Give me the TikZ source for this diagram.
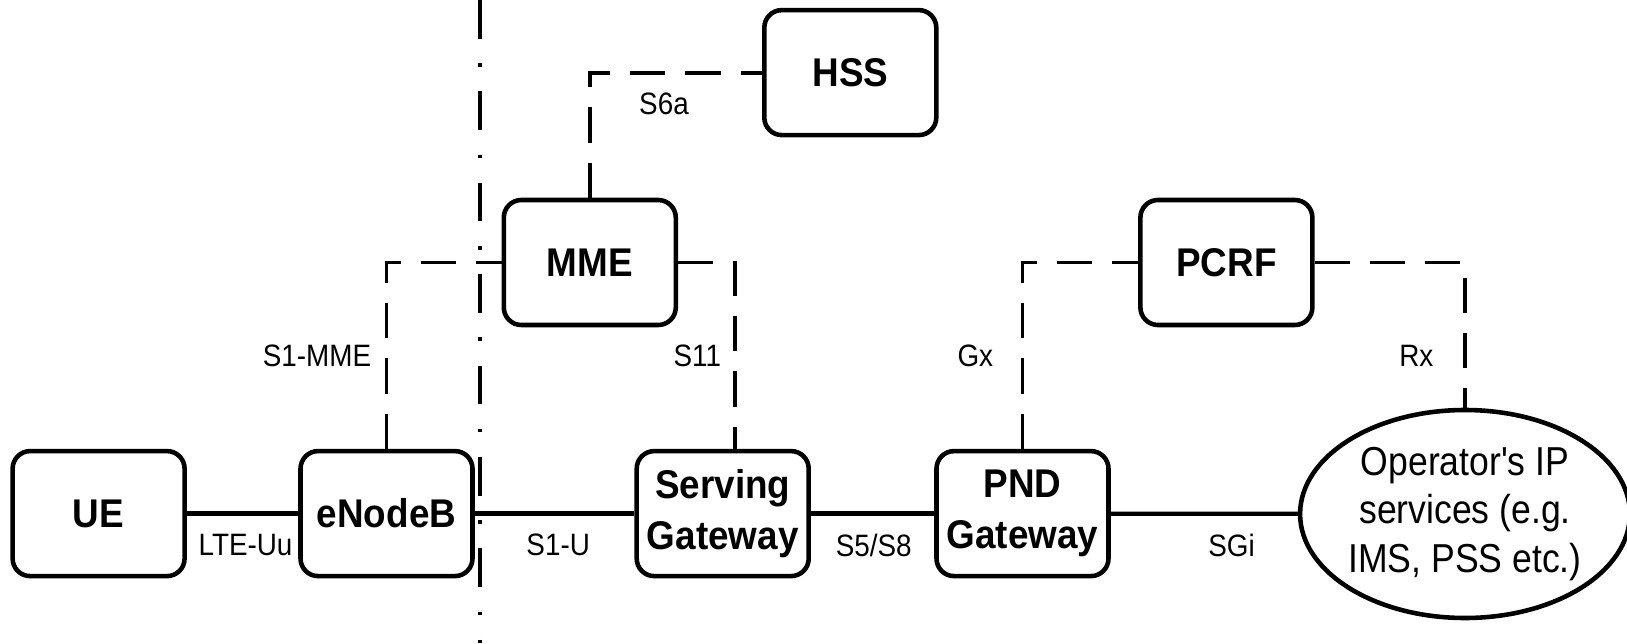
\documentclass[tikz,border=0pt]{standalone}
\usepackage{fontspec}
\setmainfont{Liberation Sans}
\newfontfamily\boxfont[FakeStretch=0.92]{Liberation Sans}
\newfontfamily\ifacefont[FakeStretch=0.9]{Liberation Sans}
\newfontfamily\opsfont[FakeStretch=0.88]{Liberation Sans}
\usetikzlibrary{shapes.geometric}

\begin{document}
\begin{tikzpicture}[
    entity/.style={draw, line width=1.3pt, rounded corners=5pt, minimum width=1.72cm,
        minimum height=1.25cm, inner sep=0pt, align=center,
        font=\boxfont\bfseries\fontsize{11.4}{14.5}\selectfont},
    iface/.style={line width=1.1pt, dash pattern=on 10pt off 5.7pt},
    link/.style={line width=1.2pt},
    ifacelabel/.style={font=\ifacefont\fontsize{8.8}{10.5}\selectfont, inner sep=0pt}
]
\useasboundingbox (0, 0) rectangle (16.27, 6.43);

% boundary between access and core
\coordinate (cuttop) at (4.804, 6.43);
\coordinate (cutbot) at (4.804, 0);
\draw[line width=1.1pt, dash pattern=on 11pt off 7pt on 1pt off 7pt] (cuttop) -- (cutbot);

\node[entity] (ue) at (0.986, 1.294) {UE};
\node[entity] (enb) at (3.865, 1.294) {eNodeB};
\node[entity] (sgw) at (7.227, 1.294) {Serving\\Gateway};
\node[entity] (pnd) at (10.225, 1.294) {PND\\Gateway};
\node[draw, line width=1.3pt, ellipse, minimum width=3.2cm, minimum height=2.08cm,
    inner sep=0pt, align=center, font=\opsfont\fontsize{11.5}{13.7}\selectfont]
    (ops) at (14.65, 1.29) {Operator's IP\\services (e.g.\\IMS, PSS etc.)};

\node[entity] (mme) at (5.898, 3.805) {MME};
\node[entity] (hss) at (8.503, 5.704) {HSS};
\node[entity] (pcrf) at (12.264, 3.805) {PCRF};

% user plane
\draw[link] (ue) -- (enb);
\draw[link] (enb) -- (sgw);
\draw[link] (sgw) -- (pnd);
\draw[link] (pnd) -- (ops);

% control plane
\draw[iface] (mme.north) |- (hss.west);
\draw[iface] (enb.north) |- (mme.west);
\draw[iface] (mme.east) -| ([xshift=1.2mm]sgw.north);
\draw[iface] (pnd.north) |- (pcrf.west);
\draw[iface] (pcrf.east) -| (ops.north);

\node[ifacelabel] (lteuu) at (2.455, 0.98) {LTE-Uu};
\node[ifacelabel] (sone) at (5.582, 0.98) {S1-U};
\node[ifacelabel] (sfive) at (8.737, 0.98) {S5/S8};
\node[ifacelabel] (sgi) at (12.316, 0.98) {SGi};
\node[ifacelabel] (s1mme) at (3.17, 2.87) {S1-MME};
\node[ifacelabel] (s11) at (6.973, 2.87) {S11};
\node[ifacelabel] (gx) at (9.753, 2.87) {Gx};
\node[ifacelabel] (rx) at (14.163, 2.87) {Rx};
\node[ifacelabel] (s6a) at (6.64, 5.392) {S6a};

\end{tikzpicture}
\end{document}
